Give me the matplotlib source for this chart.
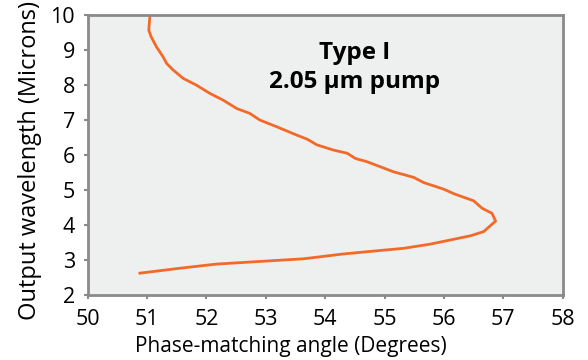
import matplotlib
matplotlib.use("Agg")
import matplotlib.pyplot as plt

angle = [51.05, 51.03, 51.07, 51.16, 51.27, 51.33, 51.44, 51.61, 51.83, 52.06,
         52.28, 52.51, 52.73, 52.90, 53.18, 53.52, 53.70, 53.86, 54.14, 54.37,
         54.51, 54.70, 55.15, 55.49, 55.66, 56.00, 56.17, 56.50, 56.64, 56.81,
         56.87, 56.67, 56.45, 56.11, 55.77, 55.32, 54.87, 54.31, 53.63, 52.85,
         52.17, 51.55, 50.88]
wavelength = [10.00, 9.57, 9.38, 9.09, 8.81, 8.62, 8.43, 8.19, 8.00, 7.76,
              7.57, 7.33, 7.19, 7.00, 6.81, 6.57, 6.45, 6.29, 6.14, 6.05,
              5.90, 5.81, 5.52, 5.36, 5.21, 5.02, 4.89, 4.69, 4.48, 4.33,
              4.11, 3.81, 3.69, 3.57, 3.45, 3.33, 3.26, 3.17, 3.03, 2.95,
              2.88, 2.76, 2.62]
xticks = [50, 51, 52, 53, 54, 55, 56, 57, 58]
yticks = [2, 3, 4, 5, 6, 7, 8, 9, 10]

plt.rcParams['font.family'] = ['Open Sans', 'DejaVu Sans']

fig = plt.figure(figsize=(5.88, 3.6), dpi=100)
ax = fig.add_axes([0.149, 0.181, 0.808, 0.777])
ax.set_facecolor('#eef0ef')
ax.plot(angle, wavelength, color='#f26a2a', lw=2.0, solid_joinstyle='round')
ax.set_xlim(50, 58)
ax.set_ylim(2, 10)
ax.set_xticks(xticks)
ax.set_yticks(yticks)
ax.tick_params(labelsize=15.5, colors='#8a8a8a', labelcolor='black', length=3, width=1.5)
ax.tick_params(axis='x', pad=7)
ax.tick_params(axis='y', pad=6)
for s in ax.spines.values():
    s.set_color('#8a8a8a')
    s.set_linewidth(2)
ax.set_xlabel('Phase-matching angle (Degrees)', fontsize=15, va='baseline')
ax.xaxis.set_label_coords(0.427, -0.2036)
ax.set_ylabel('Output wavelength (Microns)', fontsize=17, va='baseline')
ax.yaxis.set_label_coords(-0.108, 0.479)
ax.text(0.562, 0.842, 'Type I', transform=ax.transAxes, ha='center', va='baseline',
        fontsize=17.5, fontweight='bold')
ax.text(0.562, 0.738, '2.05 µm pump', transform=ax.transAxes, ha='center', va='baseline',
        fontsize=17.5, fontweight='bold')
fig.savefig('out.png', dpi=100)
